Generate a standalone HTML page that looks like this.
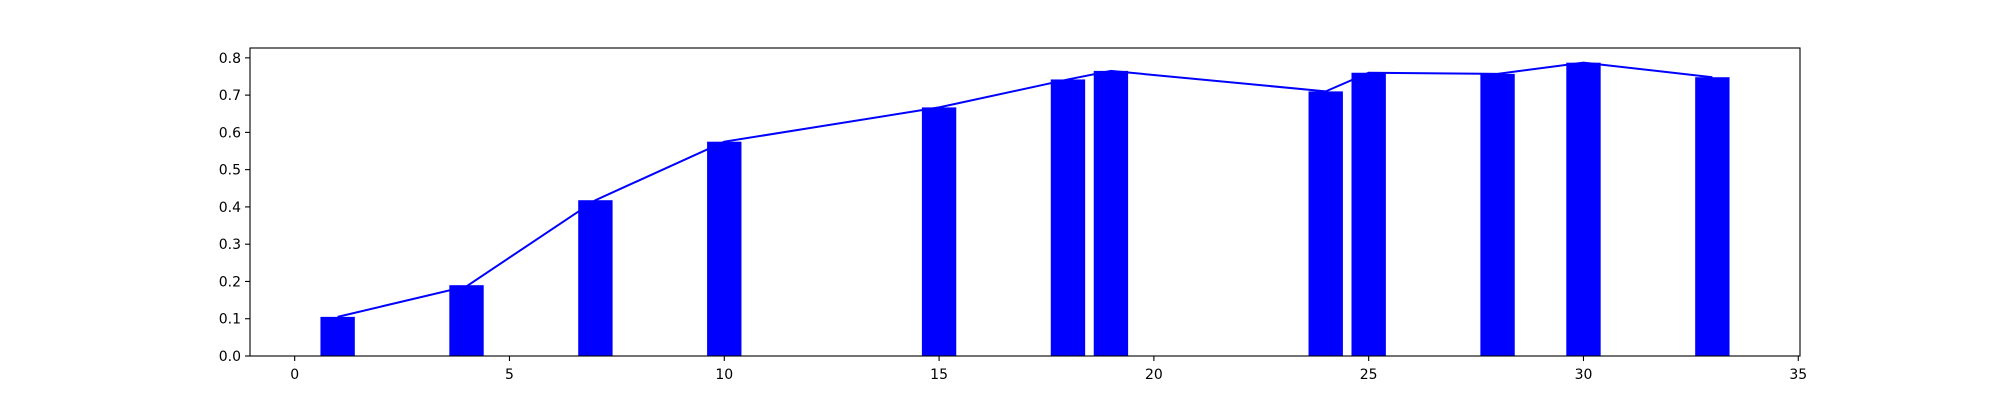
<!DOCTYPE html>
<html><head><meta charset="utf-8"><style>
html,body{margin:0;padding:0;background:#fff;}
svg{display:block;font-family:"DejaVu Sans","Liberation Sans",sans-serif;}
</style></head><body>
<svg id="chart" width="2000" height="400"></svg>
<script>
const categories = [1, 4, 7, 10, 15, 18, 19, 24, 25, 28, 30, 33];
const barValues = [0.105, 0.19, 0.418, 0.575, 0.667, 0.742, 0.765, 0.71, 0.76, 0.757, 0.787, 0.748];
const lineValues = [0.105, 0.187, 0.418, 0.575, 0.667, 0.742, 0.765, 0.71, 0.76, 0.757, 0.787, 0.748];
const xTicks = [0, 5, 10, 15, 20, 25, 30, 35];
const yTicks = [0.0, 0.1, 0.2, 0.3, 0.4, 0.5, 0.6, 0.7, 0.8];

const NS = "http://www.w3.org/2000/svg";
const svg = document.getElementById('chart');
const L = 250, R = 1800, T = 48, B = 356;
const xMin = -1.04, xMax = 35.04, yMin = 0, yMax = 0.8264;
const xs = v => L + (v - xMin) / (xMax - xMin) * (R - L);
const ys = v => B - (v - yMin) / (yMax - yMin) * (B - T);
function mk(tag, attrs) { const e = document.createElementNS(NS, tag); for (const k in attrs) e.setAttribute(k, attrs[k]); svg.appendChild(e); return e; }

categories.forEach((c, i) => {
  const x0 = xs(c - 0.4), x1 = xs(c + 0.4);
  const r = mk('rect', {x: x0, y: ys(barValues[i]), width: x1 - x0, height: B - ys(barValues[i]), fill: '#0000ff'});
  
  
});
const pts = categories.map((c, i) => xs(c) + ',' + ys(lineValues[i])).join(' ');
const pl = mk('polyline', {points: pts, fill: 'none', stroke: '#0000ff', 'stroke-width': 2});



const frame = mk('rect', {x: L, y: T, width: R - L, height: B - T, fill: 'none', stroke: '#000', 'stroke-width': 1.1});



xTicks.forEach(t => {
  const x = xs(t);
  const tk = mk('line', {x1: x, x2: x, y1: B, y2: B + 5, stroke: '#000', 'stroke-width': 1.1});
  
  
  const tx = mk('text', {x: x, y: B + 23, 'font-size': 14, 'text-anchor': 'middle', fill: '#000'});
  tx.textContent = t;
  
  
});
yTicks.forEach(t => {
  const y = ys(t);
  const tk = mk('line', {x1: L - 5, x2: L, y1: y, y2: y, stroke: '#000', 'stroke-width': 1.1});
  
  
  const tx = mk('text', {x: L - 9, y: y + 5, 'font-size': 14, 'text-anchor': 'end', fill: '#000'});
  tx.textContent = t.toFixed(1);
  
  
});
</script>
</body></html>
